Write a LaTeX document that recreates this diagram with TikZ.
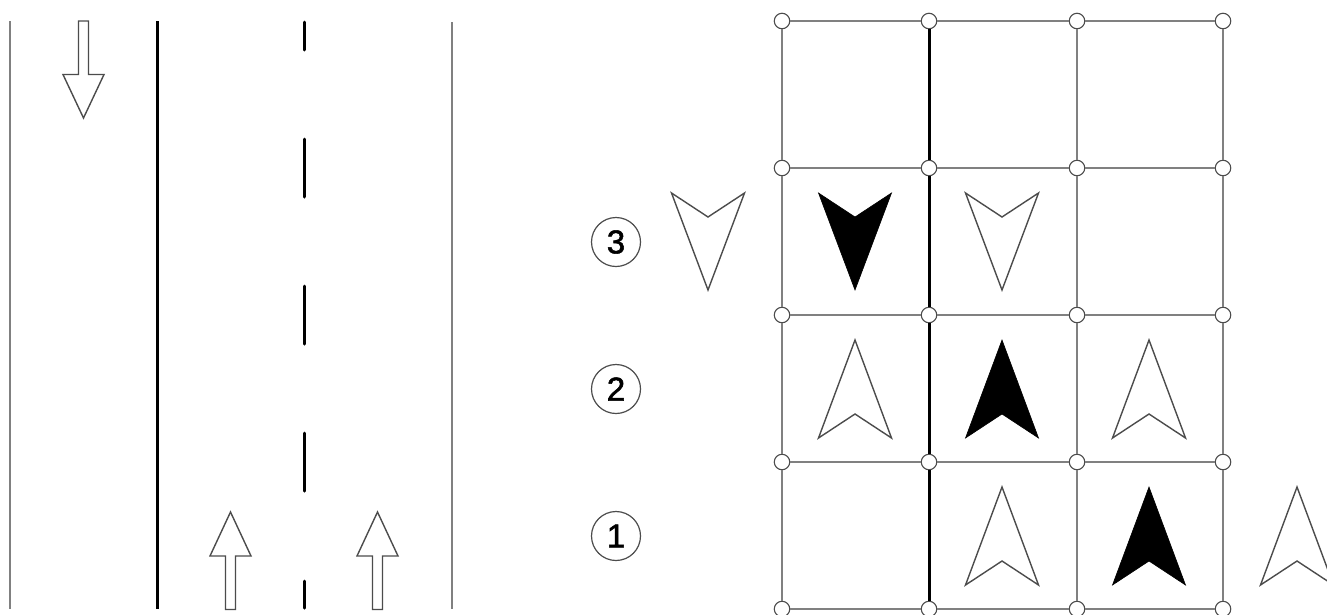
\documentclass[tikz,border=0pt]{standalone}
\usepackage{fontspec}
\setmainfont{Liberation Sans}
\newfontfamily\digitfont[FakeBold=1.6]{Liberation Sans}
\definecolor{lineg}{gray}{0.5}
\definecolor{outl}{gray}{0.3}
\tikzset{
  thinline/.style={draw=lineg,line width=2pt},
  heavyline/.style={draw=black,line width=3pt},
  dashline/.style={draw=black,line width=3pt,line cap=round},
  arrowshape/.style={draw=outl,line width=1.4pt,fill=white,line join=miter},
  solidshape/.style={draw=black,line width=0.6pt,fill=black},
  junction/.style={circle,draw=outl,line width=1.1pt,fill=white,minimum size=15.5pt,inner sep=0pt},
  numcircle/.style={circle,draw=outl,line width=1.2pt,fill=white,minimum size=49pt,inner sep=0pt,font=\digitfont\fontsize{33pt}{33pt}\selectfont}
}
\newcommand{\upchev}[3]{\path[#1] (#2,#3) -- (#2-36.5,#3+98) -- (#2,#3+74) -- (#2+36.5,#3+98) -- cycle;}
\newcommand{\downchev}[3]{\path[#1] (#2,#3+97) -- (#2-36.5,#3) -- (#2,#3+24) -- (#2+36.5,#3) -- cycle;}
\begin{document}
\begin{tikzpicture}[x=1pt,y=-1pt]
\useasboundingbox (0,0) rectangle (1327,614);
\clip (0,0) rectangle (1327,614);
\fill[white] (0,0) rectangle (1327,614);
% road
\coordinate (la) at (10,21);   \coordinate (lb) at (10,609);
\coordinate (ma) at (157,21);  \coordinate (mb) at (157,609);
\coordinate (ra) at (451.5,22);\coordinate (rb) at (451.5,609);
\draw[thinline] (la) -- (lb);
\draw[heavyline] (ma) -- (mb);
\draw[thinline] (ra) -- (rb);
\foreach \i/\a/\b in {1/22/50,2/139/197,3/286/344,4/433/491,5/581/608}{
  \coordinate (da\i) at (304,\a);
  \coordinate (db\i) at (304,\b);
  \draw[dashline] (da\i) -- (db\i);
}
% road arrows
\path[arrowshape] (78.5,21) -- (88.5,21) -- (88.5,74.5) -- (104,74.5) -- (83.5,118) -- (63,74.5) -- (78.5,74.5) -- cycle;
\foreach \c in {230.5,377.5}{
  \path[arrowshape] (\c-5,609.5) -- (\c+5,609.5) -- (\c+5,556) -- (\c+20.5,556) -- (\c,512) -- (\c-20.5,556) -- (\c-5,556) -- cycle;
}
% grid junctions
\foreach \cn/\x in {0/782,1/929,2/1077,3/1223}{
  \foreach \rn/\y in {0/21,1/168,2/315,3/462,4/609}{
    \node[junction] (n\cn\rn) at (\x,\y) {};
  }
}
% grid connectors
\foreach \r in {0,1,2,3,4}{
  \draw[thinline] (n0\r) -- (n1\r);
  \draw[thinline] (n1\r) -- (n2\r);
  \draw[thinline] (n2\r) -- (n3\r);
}
\foreach \r/\s in {0/1,1/2,2/3,3/4}{
  \draw[thinline] (n0\r) -- (n0\s);
  \draw[heavyline] (n1\r) -- (n1\s);
  \draw[thinline] (n2\r) -- (n2\s);
  \draw[thinline] (n3\r) -- (n3\s);
}
% number circles
\node[numcircle] (c3) at (616,242) {3};
\node[numcircle] (c2) at (616,389) {2};
\node[numcircle] (c1) at (616,536) {1};
% chevrons
\downchev{arrowshape}{708}{193}
\downchev{solidshape}{855}{193}
\downchev{arrowshape}{1002}{193}
\upchev{arrowshape}{855}{340}
\upchev{solidshape}{1002}{340}
\upchev{arrowshape}{1149}{340}
\upchev{arrowshape}{1002}{487}
\upchev{solidshape}{1149}{487}
\upchev{arrowshape}{1297}{487}
\end{tikzpicture}
\end{document}
